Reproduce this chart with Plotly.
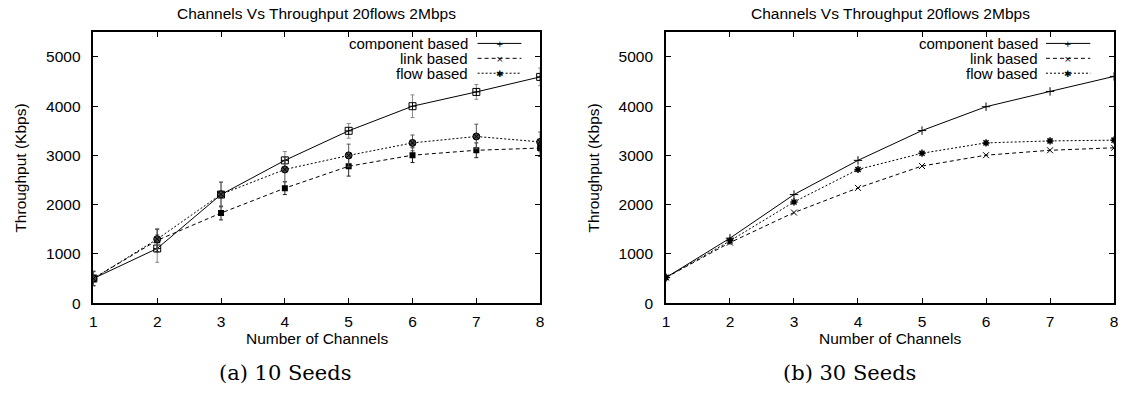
import plotly.graph_objects as go

channels = [1, 2, 3, 4, 5, 6, 7, 8]

# (a) 10 seeds
comp_10 = [500, 1110, 2205, 2900, 3500, 4000, 4290, 4595]
comp_10_err = [150, 280, 250, 180, 150, 230, 150, 180]
link_10 = [500, 1275, 1830, 2335, 2780, 3005, 3105, 3150]
link_10_err = [140, 230, 140, 130, 200, 150, 150, 170]
flow_10 = [500, 1300, 2210, 2715, 3000, 3255, 3385, 3275]
flow_10_err = [150, 200, 250, 250, 230, 160, 250, 200]

# (b) 30 seeds
comp_30 = [520, 1320, 2205, 2900, 3505, 3990, 4300, 4605]
link_30 = [520, 1230, 1840, 2340, 2785, 3005, 3105, 3155]
flow_30 = [520, 1265, 2055, 2715, 3045, 3255, 3295, 3310]

series_names = ["component based", "link based", "flow based"]
title_text = "Channels Vs Throughput 20flows 2Mbps"
captions = ["(a) 10 Seeds", "(b) 30 Seeds"]
y_ticks = [0, 1000, 2000, 3000, 4000, 5000]

FONT = "Liberation Sans, Arial, sans-serif"
FS = 15.5
FS_LEG = 15

fig = go.Figure()

# left panel
fig.add_trace(go.Scatter(x=channels, y=comp_10, mode="lines+markers", xaxis="x", yaxis="y",
    line=dict(color="black", width=1, dash="solid"),
    marker=dict(symbol="square-cross-open", size=7, color="black", line=dict(width=1, color="black")),
    error_y=dict(type="data", array=comp_10_err, thickness=1, width=2, color="#8a8a8a"),
    showlegend=False))
fig.add_trace(go.Scatter(x=channels, y=link_10, mode="lines+markers", xaxis="x", yaxis="y",
    line=dict(color="black", width=1, dash="4px,3px"),
    marker=dict(symbol="square", size=6, color="black"),
    error_y=dict(type="data", array=link_10_err, thickness=1, width=2, color="#222"),
    showlegend=False))
fig.add_trace(go.Scatter(x=channels, y=flow_10, mode="lines+markers", xaxis="x", yaxis="y",
    line=dict(color="black", width=1, dash="2px,2px"),
    marker=dict(symbol="circle-x", size=7, color="#444", line=dict(width=1, color="black")),
    error_y=dict(type="data", array=flow_10_err, thickness=1, width=2, color="#555"),
    showlegend=False))

# right panel
fig.add_trace(go.Scatter(x=channels, y=comp_30, mode="lines+markers", xaxis="x2", yaxis="y2",
    line=dict(color="black", width=1, dash="solid"),
    marker=dict(symbol="cross-thin", size=6, color="black", line=dict(width=1, color="black")),
    showlegend=False))
fig.add_trace(go.Scatter(x=channels, y=link_30, mode="lines+markers", xaxis="x2", yaxis="y2",
    line=dict(color="black", width=1, dash="4px,3px"),
    marker=dict(symbol="x-thin", size=6, color="black", line=dict(width=1, color="black")),
    showlegend=False))
fig.add_trace(go.Scatter(x=channels, y=flow_30, mode="lines+markers", xaxis="x2", yaxis="y2",
    line=dict(color="black", width=1, dash="2px,2px"),
    marker=dict(symbol="asterisk-open", size=6, color="black", line=dict(width=1.5, color="black")),
    showlegend=False))

W, H = 1125, 402
plot_l = [90, 666.7]
plot_r = [540, 1118]
plot_top, plot_bot = 33, 309.3

axis_common = dict(showgrid=False, zeroline=False, showline=True, linecolor="black", linewidth=1.5,
                   mirror="ticks", ticks="inside", ticklen=5, tickcolor="black", tickwidth=1,
                   tickfont=dict(family=FONT, size=FS, color="black"))

ydom = [1 - plot_bot / H, 1 - plot_top / H]
fig.update_layout(
    width=W, height=H, margin=dict(l=0, r=0, t=0, b=0),
    paper_bgcolor="white", plot_bgcolor="white",
    xaxis=dict(domain=[plot_l[0] / W, plot_r[0] / W], range=[1, 8], tickvals=channels,
               ticklabelstandoff=4, anchor="y", **axis_common),
    yaxis=dict(domain=ydom, range=[0, 5500], tickvals=y_ticks, ticklabelstandoff=8, anchor="x", **axis_common),
    xaxis2=dict(domain=[plot_l[1] / W, plot_r[1] / W], range=[1, 8], tickvals=channels,
                ticklabelstandoff=4, anchor="y2", **axis_common),
    yaxis2=dict(domain=ydom, range=[0, 5500], tickvals=y_ticks, ticklabelstandoff=8, anchor="x2", **axis_common),
)

annotations = []
shapes = []
dashes = ["solid", "4px,3px", "2px,2px"]
glyphs = ["+", "×", "✱"]
row_y = [0.9591, 0.9041, 0.8491]
text_x = [0.84, 0.832]
samp = [(0.86, 0.958), (0.848, 0.947)]
ytitle_x = [17, 594]
cap_x = [283, 852]
for i, (xa, ya) in enumerate([("x", "y"), ("x2", "y2")]):
    cx = (plot_l[i] + plot_r[i]) / 2 / W
    annotations.append(dict(text=title_text, xref="paper", yref="paper", x=cx, y=1 - 14 / H,
                            showarrow=False, xanchor="center", yanchor="middle",
                            font=dict(family=FONT, size=FS, color="black")))
    annotations.append(dict(text="Number of Channels", xref="paper", yref="paper", x=cx, y=1 - 345 / H,
                            showarrow=False, xanchor="center", yanchor="middle",
                            font=dict(family=FONT, size=FS, color="black")))
    annotations.append(dict(text="Throughput (Kbps)", xref="paper", yref="paper",
                            x=ytitle_x[i] / W, y=1 - (plot_top + plot_bot) / 2 / H,
                            textangle=-90, showarrow=False, xanchor="center", yanchor="middle",
                            font=dict(family=FONT, size=FS, color="black")))
    annotations.append(dict(text=captions[i], xref="paper", yref="paper",
                            x=cap_x[i] / W, y=1 - 381 / H,
                            showarrow=False, xanchor="center", yanchor="middle",
                            font=dict(family="DejaVu Serif, serif", size=21, color="black")))
    for j, name in enumerate(series_names):
        annotations.append(dict(text=name, xref=f"{xa} domain", yref=f"{ya} domain", x=text_x[i], y=row_y[j],
                                showarrow=False, xanchor="right", yanchor="middle",
                                height=13, borderpad=0, valign="middle",
                                font=dict(family=FONT, size=FS_LEG, color="black")))
        shapes.append(dict(type="line", xref=f"{xa} domain", yref=f"{ya} domain",
                           x0=samp[i][0], x1=samp[i][1], y0=row_y[j], y1=row_y[j],
                           line=dict(color="black", width=1, dash=dashes[j])))
        annotations.append(dict(text=glyphs[j], xref=f"{xa} domain", yref=f"{ya} domain",
                                x=(samp[i][0] + samp[i][1]) / 2, y=row_y[j],
                                showarrow=False, xanchor="center", yanchor="middle",
                                height=9, borderpad=0,
                                font=dict(family="DejaVu Sans, sans-serif", size=9, color="black")))

fig.update_layout(annotations=annotations, shapes=shapes)
fig.write_html("out.html")
